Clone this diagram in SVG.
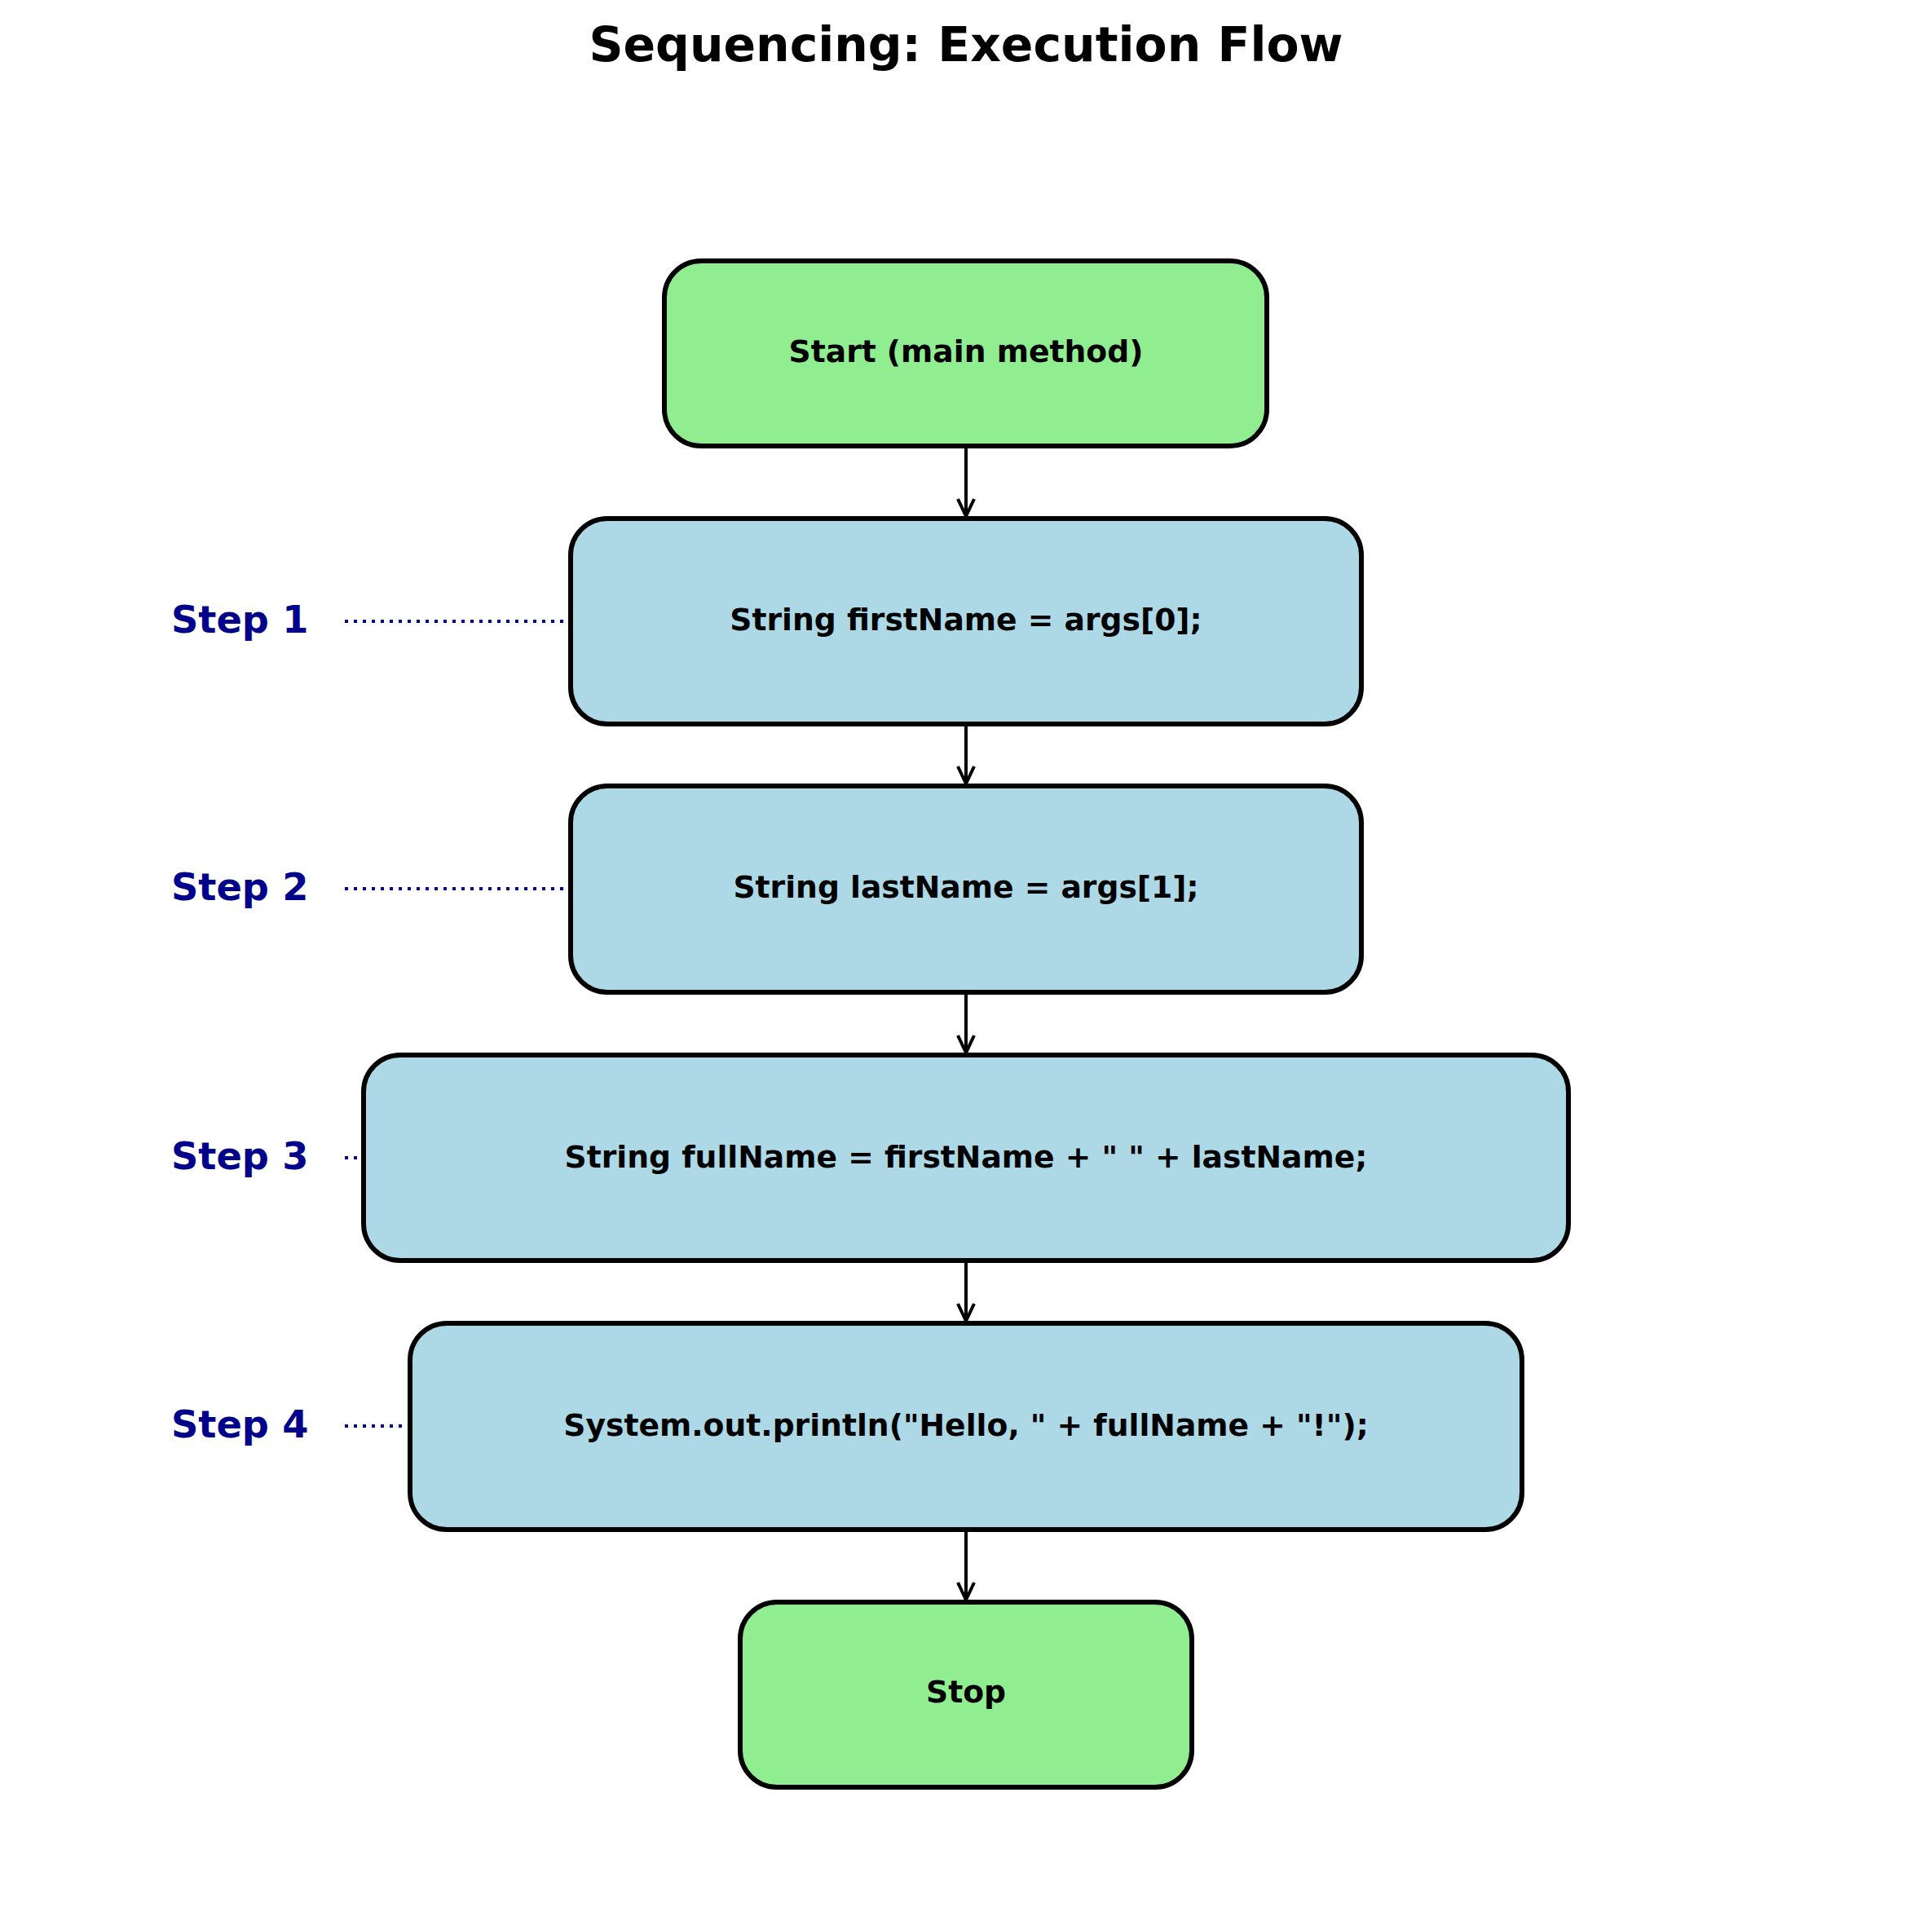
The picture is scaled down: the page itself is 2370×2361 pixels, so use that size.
<svg xmlns="http://www.w3.org/2000/svg" width="2370" height="2361" viewBox="0 0 2370 2361">
<style>
.title{font-family:"DejaVu Sans",sans-serif;font-weight:bold;font-size:58.4px;fill:#000;text-anchor:middle}
.lbl{font-family:"DejaVu Sans",sans-serif;font-weight:bold;font-size:37.7px;fill:#000;text-anchor:middle}
.step{font-family:"DejaVu Sans",sans-serif;font-weight:bold;font-size:46.3px;fill:#00008B}
.box{stroke:#000;stroke-width:6}
.green{fill:#90EE90}
.blue{fill:#ADD8E6}
.dots{stroke:#00008B;stroke-width:4;stroke-dasharray:4 7;fill:none}
.conn{stroke:#000;stroke-width:4;fill:none}
</style>
<defs>
<marker id="arrow" markerUnits="userSpaceOnUse" orient="auto" refX="0" refY="0" overflow="visible">
<path d="M-21,-10 L0,0 L-21,10" fill="none" stroke="#000" stroke-width="4"/>
</marker>
</defs>
<rect width="2370" height="2361" fill="#fff"/>
<text class="title" x="1185" y="75">Sequencing: Execution Flow</text>

<g id="step-labels">
<line class="dots" x1="423" y1="762" x2="700" y2="762"/>
<line class="dots" x1="423" y1="1090" x2="700" y2="1090"/>
<line class="dots" x1="423" y1="1420" x2="700" y2="1420"/>
<line class="dots" x1="423" y1="1749" x2="700" y2="1749"/>
<text class="step" x="210" y="776">Step 1</text>
<text class="step" x="210" y="1104">Step 2</text>
<text class="step" x="210" y="1434">Step 3</text>
<text class="step" x="210" y="1763">Step 4</text>
</g>

<g id="connectors">
<line class="conn" x1="1185" y1="550" x2="1185" y2="633" marker-end="url(#arrow)"/>
<line class="conn" x1="1185" y1="891" x2="1185" y2="961" marker-end="url(#arrow)"/>
<line class="conn" x1="1185" y1="1220" x2="1185" y2="1291" marker-end="url(#arrow)"/>
<line class="conn" x1="1185" y1="1549" x2="1185" y2="1620" marker-end="url(#arrow)"/>
<line class="conn" x1="1185" y1="1879" x2="1185" y2="1962" marker-end="url(#arrow)"/>
</g>

<g id="start">
<rect class="box green" x="815" y="320" width="739" height="227" rx="45" ry="45"/>
<text class="lbl" x="1185" y="444">Start (main method)</text>
</g>
<g id="step1">
<rect class="box blue" x="700" y="636" width="970" height="252" rx="45" ry="45"/>
<text class="lbl" x="1185" y="773">String firstName = args[0];</text>
</g>
<g id="step2">
<rect class="box blue" x="700" y="964" width="970" height="253" rx="45" ry="45"/>
<text class="lbl" x="1185" y="1101">String lastName = args[1];</text>
</g>
<g id="step3">
<rect class="box blue" x="446" y="1294" width="1478" height="252" rx="45" ry="45"/>
<text class="lbl" x="1185" y="1432">String fullName = firstName + " " + lastName;</text>
</g>
<g id="step4">
<rect class="box blue" x="503" y="1623" width="1364" height="253" rx="45" ry="45"/>
<text class="lbl" x="1185" y="1761">System.out.println("Hello, " + fullName + "!");</text>
</g>
<g id="stop">
<rect class="box green" x="908" y="1965" width="554" height="227" rx="45" ry="45"/>
<text class="lbl" x="1185" y="2088">Stop</text>
</g>
</svg>
